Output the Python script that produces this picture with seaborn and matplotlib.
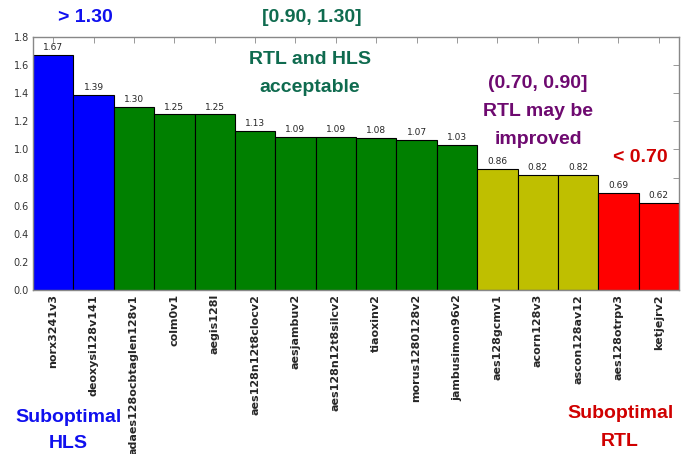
import matplotlib
matplotlib.use('Agg')
import matplotlib.pyplot as plt
import seaborn as sns
import pandas as pd

# data
designs = ['norx3241v3', 'deoxysi128v141', 'adaes128ocbtaglen128v1', 'colm0v1',
           'aegis128l', 'aes128n12t8clocv2', 'aesjambuv2', 'aes128n12t8silcv2',
           'tiaoxinv2', 'morus1280128v2', 'jambusimon96v2', 'aes128gcmv1',
           'acorn128v3', 'ascon128av12', 'aes128otrpv3', 'ketjejrv2']
ratios = [1.67, 1.39, 1.30, 1.25, 1.25, 1.13, 1.09, 1.09,
          1.08, 1.07, 1.03, 0.86, 0.82, 0.82, 0.69, 0.62]
bar_colors = ['blue'] * 2 + ['green'] * 9 + ['y'] * 3 + ['red'] * 2

yticks = [0.0, 0.2, 0.4, 0.6, 0.8, 1.0, 1.2, 1.4, 1.6, 1.8]

sns.set_style('white')
plt.rcParams['font.family'] = ['DejaVu Sans']
note_font = ['Liberation Sans Narrow', 'Liberation Sans', 'DejaVu Sans']

df = pd.DataFrame({'design': designs, 'ratio': ratios})

fig = plt.figure(figsize=(6.97, 4.54), dpi=100)
ax = fig.add_axes([33 / 697, 1 - 290 / 454, 646 / 697, 253 / 454])

sns.barplot(data=df, x='design', y='ratio', hue='design', palette=bar_colors,
            width=1.0, edgecolor='black', linewidth=0.8, saturation=1,
            legend=False, ax=ax)

for cont in ax.containers:
    ax.bar_label(cont, fmt='%.2f', fontsize=6.5, padding=2)

ax.set_xlim(-0.5, len(designs) - 0.5)
ax.set_ylim(0, 1.8)
ax.set_yticks(yticks)
ax.set_yticklabels([f'{v:.1f}' for v in yticks], fontsize=7, color='#333333')
ax.set_xticks(range(len(designs)))
ax.set_xticklabels(designs, rotation=90, fontsize=8, fontweight='bold')
ax.set_xlabel('')
ax.set_ylabel('')
ax.tick_params(direction='in', length=4, top=True, right=True, width=0.6,
               color='#888888', pad=3)
for s in ax.spines.values():
    s.set_color('#888888')
    s.set_linewidth(1)

def note(x, y, txt, color):
    fig.text(x / 697, 1 - y / 454, txt, ha='center', va='center', color=color,
             fontsize=14, fontweight='bold', family=note_font)

note(85, 17, '> 1.30', '#1010ee')
note(312, 17, '[0.90, 1.30]', '#0f6b4f')
note(310, 60, 'RTL and HLS', '#0f6b4f')
note(310, 87, 'acceptable', '#0f6b4f')
note(538, 84, '(0.70, 0.90]', '#6e0a70')
note(538, 112, 'RTL may be', '#6e0a70')
note(538, 140, 'improved', '#6e0a70')
note(640, 157, '< 0.70', '#d00000')
note(68, 418, 'Suboptimal', '#1010ee')
note(68, 444, 'HLS', '#1010ee')
note(620, 414, 'Suboptimal', '#d00000')
note(620, 441, 'RTL', '#d00000')

fig.savefig('out.png', dpi=100)
